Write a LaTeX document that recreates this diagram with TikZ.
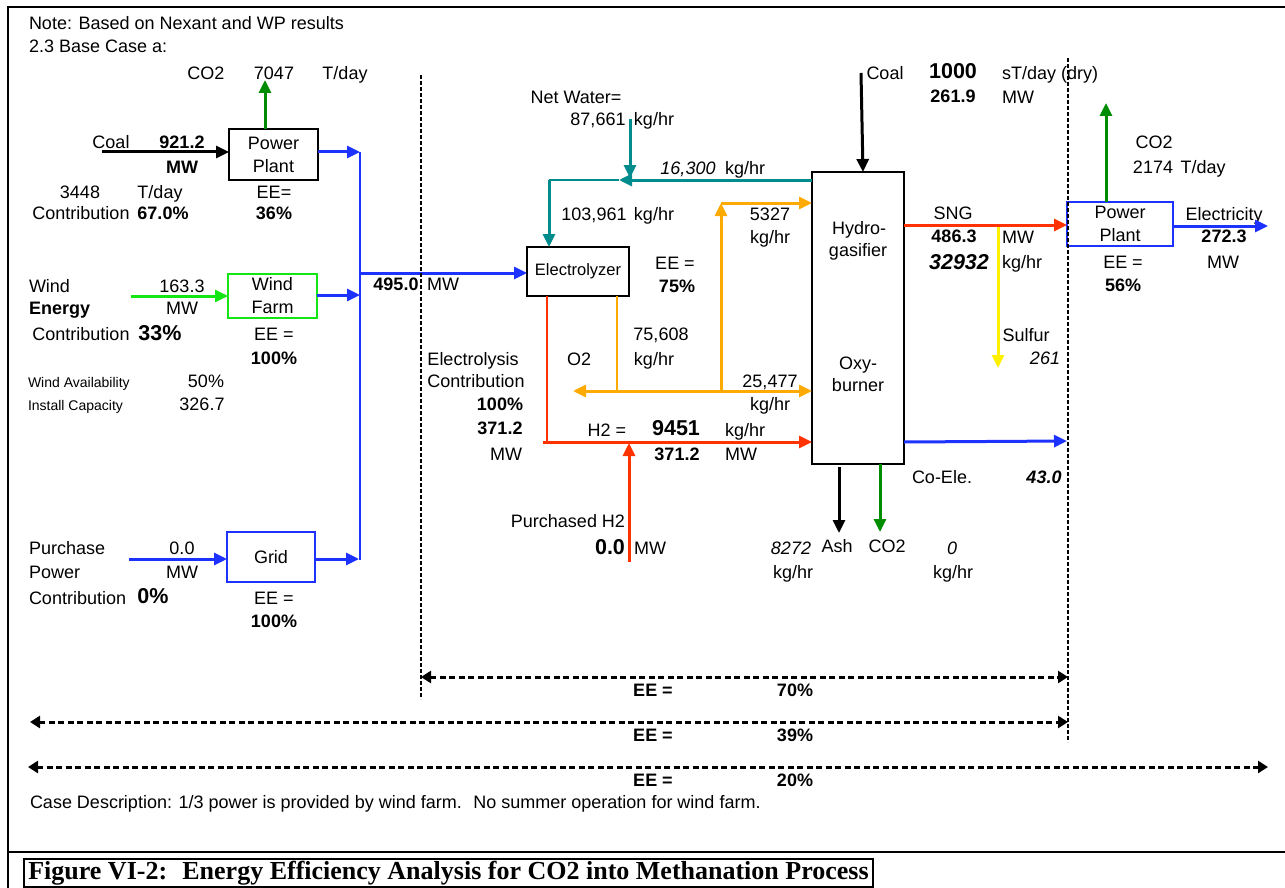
\documentclass[tikz,border=0pt]{standalone}
\usepackage{fontspec}
\setmainfont{Liberation Sans}
\newfontfamily\capfont{Liberation Serif}
\usetikzlibrary{arrows.meta}
\definecolor{fblue}{RGB}{30,50,255}
\definecolor{fgreen}{RGB}{0,140,0}
\definecolor{lgreen}{RGB}{20,230,20}
\definecolor{fred}{RGB}{255,50,0}
\definecolor{forange}{RGB}{255,170,0}
\definecolor{fteal}{RGB}{0,140,140}
\definecolor{fyellow}{RGB}{255,240,0}
\tikzset{
  t/.style={inner sep=0pt, outer sep=0pt, text height=12.5pt, text depth=0pt, font=\fontsize{18}{21}\selectfont},
  tb/.style={t, font=\fontsize{18}{21}\selectfont\bfseries},
  ti/.style={t, font=\fontsize{18}{21}\selectfont\itshape},
  tbi/.style={t, font=\fontsize{18}{21}\selectfont\bfseries\itshape},
  tbig/.style={inner sep=0pt, outer sep=0pt, text height=15.5pt, text depth=0pt, font=\fontsize{21.5}{24}\selectfont\bfseries},
  tbigi/.style={tbig, font=\fontsize{21.5}{24}\selectfont\bfseries\itshape},
  tsm/.style={inner sep=0pt, outer sep=0pt, text height=10pt, text depth=0pt, font=\fontsize{14}{16}\selectfont},
  box/.style={draw, line width=1.5pt, inner sep=0pt, outer sep=0pt, align=center, font=\fontsize{18}{23}\selectfont},
  flow/.style={line width=3pt, -{Triangle[length=13pt,width=12pt]}},
  thinline/.style={line width=1.4pt},
  sepline/.style={line width=2.4pt, dash pattern=on 4pt off 2pt},
  eeline/.style={line width=3pt, dash pattern=on 6pt off 3.5pt, {Triangle[length=10pt,width=12pt]}-{Triangle[length=10pt,width=12pt]}},
}
\begin{document}
\begin{tikzpicture}[x=1pt,y=-1pt]
\useasboundingbox (0,0) rectangle (1285,888);
% frame and caption
\draw[line width=2.2pt] (8,888) -- (8,7) -- (1285,7);
\draw[line width=2.2pt] (8,852) -- (1285,852);
\node[draw, line width=1.6pt, minimum width=849pt, minimum height=28pt, inner sep=0pt, font=\capfont\bfseries\fontsize{26}{28}\selectfont] (cap) at (448.5,873) {Figure VI-2:~ Energy Efficiency Analysis for CO2 into Methanation Process};

% boxes
\node[box, minimum width=89pt, minimum height=51pt] (pp1) at (273.5,154.5) {Power\\Plant};
\node[box, draw=lgreen, double=lgreen, double distance=0.8pt, line width=0.9pt, minimum width=89pt, minimum height=44pt] (wf) at (272.5,296) {Wind\\Farm};
\node[box, draw=fblue, minimum width=88pt, minimum height=50pt] (grid) at (271,557) {Grid};
\node[box, minimum width=102pt, minimum height=49pt, font=\fontsize{16.5}{20}\selectfont] (el) at (578,271.5) {Electrolyzer};
\node[box, minimum width=92pt, minimum height=292pt] (hg) at (858,318) {};
\node[box, draw=fblue, minimum width=106pt, minimum height=44pt] (pp2) at (1120,224) {Power\\Plant};

% left texts
\node[t, anchor=west] (note) at (29,23) {Note: Based on Nexant and WP results};
\node[t, anchor=west] (base) at (29,46) {2.3 Base Case a:};
\node[t] (co2a) at (206,73) {CO2};
\node[t] (v7047) at (274,73) {7047};
\node[t] (td1) at (345,73) {T/day};
\node[t] (coal1) at (111,142) {Coal};
\node[tb] (v921) at (182,142) {921.2};
\node[tb] (mw1) at (182,167) {MW};
\node[t] (v3448) at (80,192) {3448};
\node[t] (td2) at (160,192) {T/day};
\node[t] (ee1) at (274,192) {EE=};
\node[t] (con1) at (81,213) {Contribution};
\node[tb] (p67) at (163,213) {67.0\%};
\node[tb] (p36) at (274,213) {36\%};
\node[t, anchor=west] (wind) at (29,286) {Wind};
\node[tb, anchor=west] (energy) at (29,308) {Energy};
\node[t] (v163) at (182,286) {163.3};
\node[t] (mw2) at (182,308) {MW};
\node[t] (con2) at (81,334) {Contribution};
\node[tbig] (p33) at (160,333) {33\%};
\node[t] (ee2) at (274,334) {EE =};
\node[tb] (p100a) at (274,358) {100\%};
\node[tsm, anchor=west] (wa) at (28,382) {Wind Availability};
\node[t] (p50) at (206,381) {50\%};
\node[tsm, anchor=west] (ic) at (28,405) {Install Capacity};
\node[t] (v326) at (202,404) {326.7};
\node[t, anchor=west] (pur) at (29,548) {Purchase};
\node[t, anchor=west] (pow) at (29,572) {Power};
\node[t, anchor=west] (con3) at (29,598) {Contribution};
\node[tbig] (p0) at (153,596) {0\%};
\node[t] (v00) at (182,548) {0.0};
\node[t] (mw3) at (182,572) {MW};
\node[t] (ee3) at (274,598) {EE =};
\node[tb] (p100b) at (274,621) {100\%};
\node[tb] (v495) at (396,284) {495.0};
\node[t] (mw4) at (443,284) {MW};

% middle texts
\node[t] (nw) at (576,97) {Net Water=};
\node[t] (v87) at (598,119) {87,661};
\node[t] (kg1) at (654,119) {kg/hr};
\node[ti] (v163b) at (688,168) {16,300};
\node[t] (kg2) at (745,168) {kg/hr};
\node[t] (v103) at (594,214) {103,961};
\node[t] (kg3) at (654,214) {kg/hr};
\node[t] (v5327) at (770,214) {5327};
\node[t] (kg4) at (770,237) {kg/hr};
\node[t] (ee4) at (675,263) {EE =};
\node[tb] (p75) at (677,286) {75\%};
\node[t] (v756) at (661,334) {75,608};
\node[t] (kg5) at (654,359) {kg/hr};
\node[t] (elys) at (473,359) {Electrolysis};
\node[t] (o2) at (579,359) {O2};
\node[t] (con4) at (476,381) {Contribution};
\node[t] (v254) at (770,381) {25,477};
\node[t] (kg6) at (770,404) {kg/hr};
\node[tb] (p100c) at (500,404) {100\%};
\node[tb] (v371a) at (500,428) {371.2};
\node[t] (mw5) at (506,454) {MW};
\node[t] (h2) at (607,430) {H2 =};
\node[tbig] (v9451) at (676,428) {9451};
\node[t] (kg7) at (745,430) {kg/hr};
\node[tb] (v371b) at (677,454) {371.2};
\node[t] (mw6) at (741,454) {MW};
\node[t] (ph2) at (568,521) {Purchased H2};
\node[tbig] (v00b) at (610,547) {0.0};
\node[t] (mw7) at (650,548) {MW};
\node[ti] (v8272) at (791,548) {8272};
\node[t] (kg8) at (793,572) {kg/hr};

% right texts
\node[t] (coal2) at (885,73) {Coal};
\node[tbig] (v1000) at (953,71) {1000};
\node[t] (std) at (1050,73) {sT/day (dry)};
\node[tb] (v2619) at (953,96) {261.9};
\node[t] (mw8) at (1018,97) {MW};
\node[t] (hy1) at (859,228) {Hydro-};
\node[t] (hy2) at (858,250) {gasifier};
\node[t] (ox1) at (858,363) {Oxy-};
\node[t] (ox2) at (858,385) {burner};
\node[t] (sng) at (953,213) {SNG};
\node[tb] (v486) at (954,236) {486.3};
\node[t] (mw9) at (1018,237) {MW};
\node[tbigi] (v329) at (959,262) {32932};
\node[t] (kg9) at (1022,262) {kg/hr};
\node[t] (sul) at (1026,335) {Sulfur};
\node[ti] (v261) at (1045,358) {261};
\node[t] (co2c) at (1154,142) {CO2};
\node[t] (v2174) at (1153,167) {2174};
\node[t] (td3) at (1203,167) {T/day};
\node[t] (elec) at (1224,214) {Electricity};
\node[tb] (v272) at (1224,236) {272.3};
\node[t] (mw10) at (1223,262) {MW};
\node[t] (ee5) at (1123,262) {EE =};
\node[tb] (p56) at (1123,285) {56\%};
\node[t] (coele) at (942,477) {Co-Ele.};
\node[tbi] (v43) at (1044,477) {43.0};
\node[t] (ash) at (837,546) {Ash};
\node[t] (co2d) at (887,546) {CO2};
\node[ti] (v0) at (952,548) {0};
\node[t] (kg10) at (953,572) {kg/hr};

% EE labels and case description
\node[tb] (eeA) at (653,690) {EE =};
\node[tb] (p70) at (795,690) {70\%};
\node[tb] (eeB) at (653,735) {EE =};
\node[tb] (p39) at (795,735) {39\%};
\node[tb] (eeC) at (653,780) {EE =};
\node[tb] (p20) at (795,780) {20\%};
\node[t, anchor=west] (case) at (30,802) {Case Description: 1/3 power is provided by wind farm.~ No summer operation for wind farm.};

% ---- connectors, left side
\coordinate (coalS) at (102,152);
\draw[flow] (coalS) -- (coalS -| pp1.west);
\coordinate (co2T) at (265,80);
\draw[flow, fgreen] (co2T |- pp1.north) -- (co2T);
\coordinate (busT) at (360,152);
\coordinate (busB) at (360,560);
\draw[fblue, line width=1.6pt] (busT) -- (busB);
\draw[flow, fblue] (pp1.east |- busT) -- (busT);
\coordinate (windS) at (131,296);
\draw[flow, lgreen] (windS) -- (windS -| wf.west);
\coordinate (wfb) at (360,295);
\draw[flow, fblue] (wf.east |- wfb) -- (wfb);
\coordinate (gridS) at (129,559);
\draw[flow, fblue] (gridS) -- (gridS -| grid.west);
\coordinate (gb) at (359,559);
\draw[flow, fblue] (grid.east |- gb) -- (gb);
\coordinate (bus2) at (360,273);
\draw[flow, fblue] (bus2) -- (bus2 -| el.west);

% water
\coordinate (nwS) at (630,119);
\coordinate (nwE) at (630,178);
\coordinate (jw) at (619,180);
\coordinate (jl) at (549,180);
\draw[flow, fteal] (hg.west |- jw) -- (jw);
\draw[flow, fteal] (nwS) -- (nwE);
\draw[fteal, thinline] (jw) -- (jl);
\draw[flow, fteal] (jl) -- (jl |- el.north);

% hydrogen
\coordinate (rv) at (547,442);
\draw[fred, thinline] (rv |- el.south) -- (rv);
\coordinate (rh) at (543,442);
\draw[flow, fred] (rh) -- (rh -| hg.west);
\coordinate (phS) at (629,562);
\coordinate (phE) at (629,443);
\draw[flow, fred] (phS) -- (phE);

% oxygen
\coordinate (ov) at (617,391);
\coordinate (oj) at (721,391);
\coordinate (oL) at (573,391);
\coordinate (oT) at (721,203);
\draw[forange, thinline] (ov |- el.south) -- (ov);
\draw[flow, forange] (oj) -- (oL);
\draw[flow, forange] (oj) -- (oj -| hg.west);
\draw[flow, forange] (oj) -- (oT);
\draw[flow, forange] (oT) -- (oT -| hg.west);

% right side
\coordinate (c2S) at (861,73);
\draw[flow] (c2S) -- ([xshift=5pt]hg.north);
\coordinate (sngY) at (0,225);
\draw[flow, fred] (hg.east |- sngY) -- (pp2.west |- sngY);
\coordinate (sS) at (998,227);
\coordinate (sE) at (998,368);
\draw[flow, fyellow] (sS) -- (sE);
\coordinate (ceS) at (906,442);
\coordinate (ceE) at (1067,441);
\draw[flow, fblue] (ceS -| hg.east) -- (ceE);
\coordinate (ash1) at (839,467);
\coordinate (ash2) at (839,533);
\draw[flow] (ash1) -- (ash2);
\coordinate (cb2) at (880,532);
\draw[flow, fgreen] (cb2 |- hg.south) -- (cb2);
\coordinate (c3T) at (1106,103);
\draw[flow, fgreen] (c3T |- pp2.north) -- (c3T);
\coordinate (elE) at (1268,226);
\draw[flow, fblue] (pp2.east |- elE) -- (elE);

% separators
\coordinate (s1T) at (421,75);
\coordinate (s1B) at (421,699);
\coordinate (s2T) at (1068,58);
\coordinate (s2B) at (1068,742);
\draw[sepline] (s1T) -- (s1B);
\draw[sepline] (s2T) -- (s2B);

% efficiency spans
\coordinate (e1L) at (421,677);
\coordinate (e1R) at (1068,677);
\coordinate (e2L) at (30,722);
\coordinate (e2R) at (1068,722);
\coordinate (e3L) at (28,767);
\coordinate (e3R) at (1268,767);
\draw[eeline] (e1L) -- (e1R);
\draw[eeline] (e2L) -- (e2R);
\draw[eeline] (e3L) -- (e3R);
\end{tikzpicture}
\end{document}
